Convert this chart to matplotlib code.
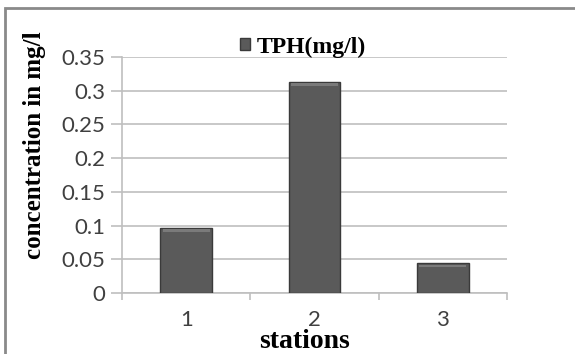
import matplotlib.pyplot as plt
from matplotlib.patches import Rectangle

stations = ['1', '2', '3']
tph = [0.097, 0.313, 0.044]
y_ticks = [0, 0.05, 0.1, 0.15, 0.2, 0.25, 0.3, 0.35]
y_tick_labels = ['0', '0.05', '0.1', '0.15', '0.2', '0.25', '0.3', '0.35']


def plot():
    fig = plt.figure(figsize=(5.75, 3.54), dpi=100)
    ax = fig.add_axes([122 / 575, 1 - 293 / 354, 385 / 575, 236 / 354])

    x = list(range(1, len(stations) + 1))
    bars = ax.bar(x, tph, width=0.405, color='#5a5a5a', edgecolor='#3a3a3a',
                  linewidth=1.0, label='TPH(mg/l)', zorder=3)

    ax.set_xlim(0.5, 3.5)
    ax.set_ylim(0, 0.35)
    ax.set_yticks(y_ticks)
    ax.set_yticklabels(y_tick_labels)
    ax.set_xticks([0.5, 1.5, 2.5, 3.5], minor=False)
    ax.set_xticklabels([])
    ax.set_xticks(x, minor=True)
    ax.set_xticklabels(stations, minor=True)

    ax.grid(axis='y', color='#bfbfbf', linewidth=1.2, zorder=0)
    for side in ['top', 'right']:
        ax.spines[side].set_visible(False)
    for side in ['left', 'bottom']:
        ax.spines[side].set_color('#bfbfbf')
        ax.spines[side].set_linewidth(1.2)

    ax.tick_params(axis='y', which='major', length=8, color='#bfbfbf', width=1.2,
                   labelsize=16, labelcolor='#404040', pad=4)
    ax.tick_params(axis='x', which='major', length=5, color='#bfbfbf', width=1.2,
                   direction='out')
    ax.tick_params(axis='x', which='minor', length=0, labelsize=16,
                   labelcolor='#404040', pad=12)
    for lbl in ax.get_yticklabels() + ax.get_xticklabels(minor=True):
        lbl.set_family(['Lato', 'DejaVu Sans'])

    # light bevel on top of each bar
    for b in bars:
        ax.add_patch(Rectangle((b.get_x() + 0.02, b.get_height() - 0.006),
                               b.get_width() - 0.04, 0.004, color='#7a7a7a',
                               zorder=4, linewidth=0))

    fig.text(35 / 575, 1 - 145 / 354, 'concentration in mg/l', rotation=90,
             ha='center', va='center', fontsize=18, fontweight='bold',
             family='Liberation Serif')
    fig.text(305 / 575, 1 - 341 / 354, 'stations', ha='center', va='center',
             fontsize=20, fontweight='bold', family='Liberation Serif')

    fig.legend(handles=[bars], labels=['TPH(mg/l)'], loc='center',
               bbox_to_anchor=(303 / 575, 1 - 47 / 354), frameon=False,
               handlelength=0.4, handleheight=0.4, handletextpad=0.3,
               prop={'family': 'Liberation Serif', 'weight': 'bold', 'size': 17})

    fig.patches.append(Rectangle((5 / 575, -0.1), 1.1, 1.1 - 8 / 354,
                                 transform=fig.transFigure, fill=False,
                                 edgecolor='#8a8a8a', linewidth=2))

    fig.savefig('out.png', dpi=100)
    plt.close(fig)


if __name__ == "__main__":
    plot()
